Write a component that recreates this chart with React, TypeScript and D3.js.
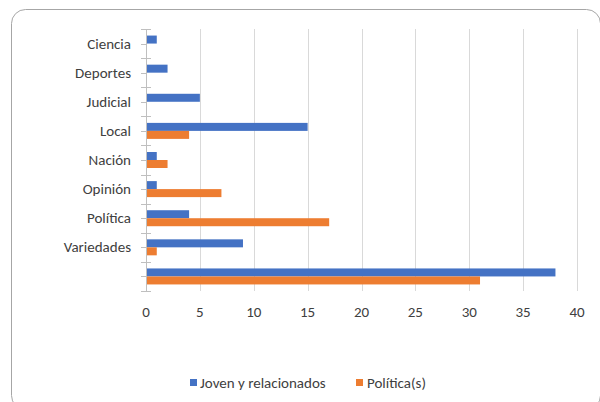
import React from "react";
import * as d3 from "d3";

const categories = ["Ciencia", "Deportes", "Judicial", "Local", "Nación", "Opinión", "Política", "Variedades", ""];
const jovenValues = [1, 2, 5, 15, 1, 1, 4, 9, 38];
const politicaValues = [0, 0, 0, 4, 2, 7, 17, 1, 31];
const seriesNames = ["Joven y relacionados", "Política(s)"];
const seriesColors = ["#4472C4", "#ED7D31"];
const xTicks = [0, 5, 10, 15, 20, 25, 30, 35, 40];

const W = 600;
const H = 402;
const left = 146;
const right = 577;
const top = 29;
const bottom = 291;
const FONT = "Carlito, Calibri, Lato, 'Open Sans', sans-serif";
const FS = 15;
const TEXT = "#404040";

export default function App() {
  const x = d3.scaleLinear().domain([0, 40]).range([left, right]);
  const yOuter = d3.scaleBand<string>().domain(categories.map((c, i) => String(i))).range([top, bottom]).padding(0);
  const step = yOuter.step();
  const yInner = d3.scaleBand<string>().domain(["0", "1"]).range([0, step]).paddingInner(0).paddingOuter(0.82);
  const rows = categories.map((c, i) => ({ c, i, vals: [jovenValues[i], politicaValues[i]] }));

  return (
    <svg width={W} height={H} style={{ position: "absolute", left: 0, top: 0, background: "#fff" }} fontFamily={FONT}>
      <rect x={11.5} y={9.5} width={589} height={400} rx={14} ry={14} fill="#fff" stroke="#a6a6a6" strokeWidth={1} />
      {xTicks.map((t) => (
        <line key={t} x1={Math.round(x(t)) + 0.5} x2={Math.round(x(t)) + 0.5} y1={top} y2={bottom} stroke="#d9d9d9" strokeWidth={1} />
      ))}
      {rows.map((r) =>
        r.vals.map((v, k) => {
          const y0 = (yOuter(String(r.i)) as number) + (yInner(String(k)) as number);
          return (
            <rect key={`${r.i}-${k}`} x={x(0)} y={y0} width={x(v) - x(0)} height={yInner.bandwidth()} fill={seriesColors[k]} />
          );
        })
      )}
      <line x1={left + 0.5} x2={left + 0.5} y1={top} y2={bottom} stroke="#bfbfbf" strokeWidth={1} />
      {d3.range(categories.length + 1).map((i) => {
        const yy = Math.round(top + i * step) + 0.5;
        return <line key={`t${i}`} x1={141} x2={151} y1={yy} y2={yy} stroke="#bfbfbf" strokeWidth={1} />;
      })}
      {categories.map((c, i) => {
        const yy = Math.round(top + (i + 0.5) * step) + 0.5;
        return <line key={`m${i}`} x1={141} x2={146} y1={yy} y2={yy} stroke="#bfbfbf" strokeWidth={1} />;
      })}
      {rows.map((r) => (
        <text
          key={`l${r.i}`}
          x={131}
          y={(yOuter(String(r.i)) as number) + step / 2}
          textAnchor="end"
          dominantBaseline="central"
          fontSize={FS}
          fill={TEXT}
        >
          {r.c}
        </text>
      ))}
      {xTicks.map((t) => (
        <text key={`x${t}`} x={x(t)} y={312} textAnchor="middle" dominantBaseline="central" fontSize={FS} fill={TEXT}>
          {t}
        </text>
      ))}
      <rect x={190} y={379} width={7} height={7} fill={seriesColors[0]} />
      <text x={200} y={383} dominantBaseline="central" fontSize={FS} fill={TEXT}>
        {seriesNames[0]}
      </text>
      <rect x={356} y={379} width={7} height={7} fill={seriesColors[1]} />
      <text x={367} y={383} dominantBaseline="central" fontSize={FS} fill={TEXT}>
        {seriesNames[1]}
      </text>
    </svg>
  );
}
